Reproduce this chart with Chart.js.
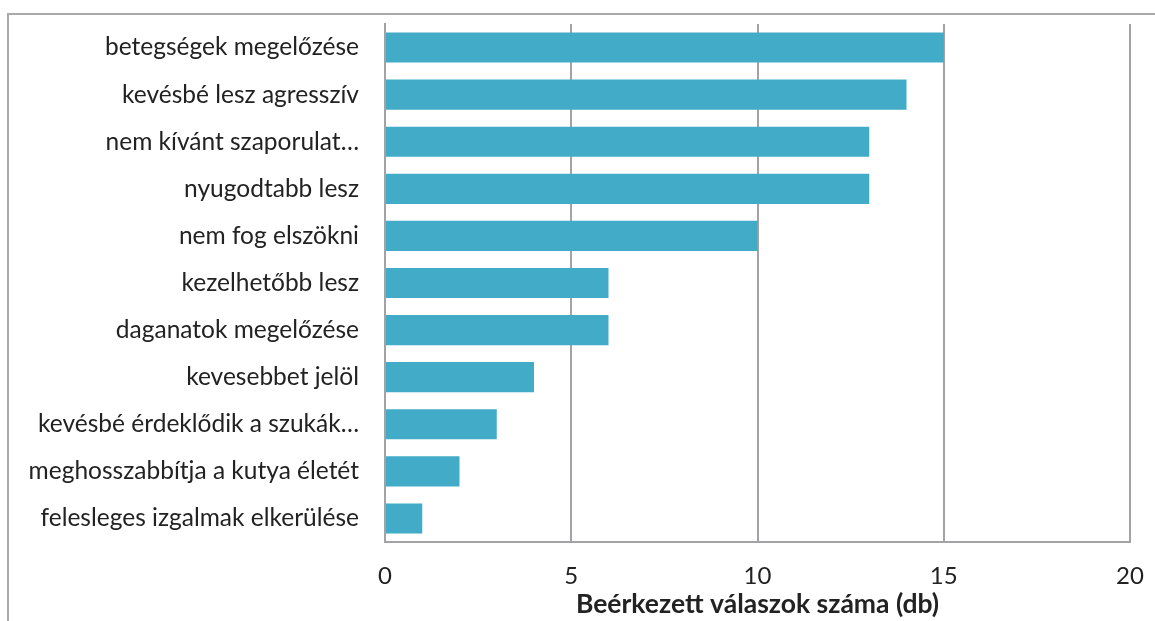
<!DOCTYPE html>
<html>
<head>
<meta charset="utf-8">
<script src="https://cdn.jsdelivr.net/npm/chart.js@4"></script>
<style>
  html, body { margin: 0; padding: 0; background: #fff; overflow: hidden; }
  #frame { position: absolute; left: 7px; top: 13px; width: 1300px; height: 800px; border: 2px solid #a9a9ab; }
  #wrap { position: absolute; left: 0; top: 0; width: 1155px; height: 621px; }
</style>
</head>
<body>
<div id="frame"></div>
<div id="wrap"><canvas id="chart" width="1155" height="621"></canvas></div>
<script>
// answers, top to bottom
const labels = [
  'betegségek megelőzése',
  'kevésbé lesz agresszív',
  'nem kívánt szaporulat…',
  'nyugodtabb lesz',
  'nem fog elszökni',
  'kezelhetőbb lesz',
  'daganatok megelőzése',
  'kevesebbet jelöl',
  'kevésbé érdeklődik a szukák…',
  'meghosszabbítja a kutya életét',
  'felesleges izgalmak elkerülése',
];
const counts = [15, 14, 13, 13, 10, 6, 6, 4, 3, 2, 1];
const xTicks = [0, 5, 10, 15, 20];
const axisTitle = 'Beérkezett válaszok száma (db)';

const font = "Lato, sans-serif";
const gridColor = '#a3a3a5';

new Chart(document.getElementById('chart'), {
  type: 'bar',
  data: {
    labels: labels,
    datasets: [{
      data: counts,
      backgroundColor: '#42abc7',
      categoryPercentage: 1,
      barPercentage: 0.64,
    }],
  },
  options: {
    indexAxis: 'y',
    responsive: false,
    animation: false,
    devicePixelRatio: 1,
    layout: { padding: { top: 24, right: 25, left: 0, bottom: 0 } },
    plugins: { legend: { display: false }, tooltip: { enabled: false } },
    scales: {
      x: {
        min: 0, max: 20,
        afterBuildTicks: (s) => { s.ticks = xTicks.map(v => ({ value: v })); },
        afterFit: (s) => { s.height = 79; s.paddingLeft = 0; s.paddingRight = 0; },
        grid: { color: gridColor, lineWidth: 2, drawTicks: false },
        border: { color: gridColor, width: 2 },
        ticks: { font: { family: font, size: 24 }, color: '#222', padding: 20 },
        title: {
          display: true, text: axisTitle, color: '#222',
          font: { family: font, size: 26.5, weight: 'bold' }, padding: { top: 0, bottom: 1 },
        },
      },
      y: {
        afterFit: (s) => { s.width = 385; s.paddingTop = 0; s.paddingBottom = 0; },
        grid: { display: false, drawTicks: false },
        border: { color: gridColor, width: 2 },
        ticks: { font: { family: font, size: 24.5 }, color: '#222', padding: 26 },
      },
    },
  },
});
</script>
</body>
</html>
